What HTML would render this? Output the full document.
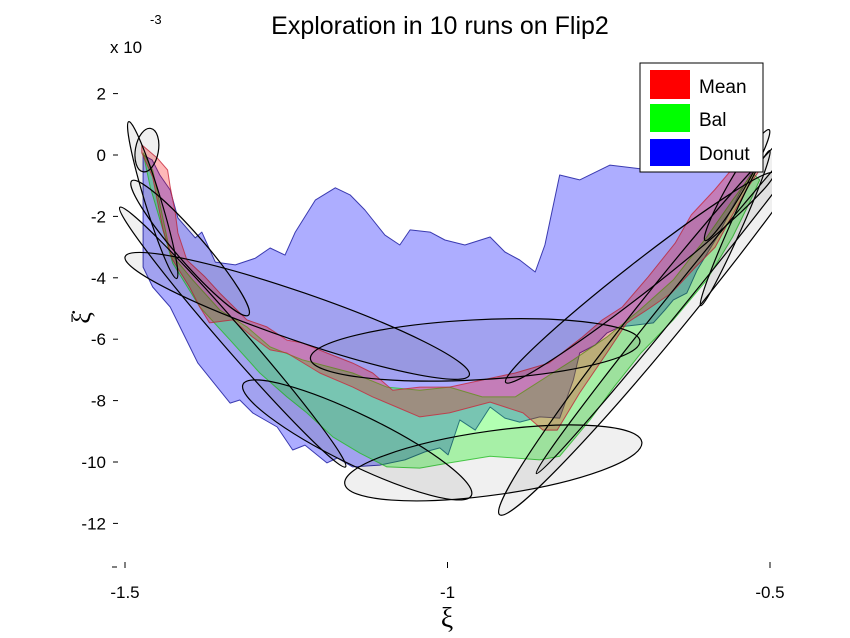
<!DOCTYPE html>
<html><head><meta charset="utf-8"><style>
body{margin:0;background:#fff}
svg{display:block;font-family:"Liberation Sans",sans-serif}
</style></head><body>
<svg id="chart" width="850" height="638" viewBox="0 0 850 638">
<g id="plot"></g>
<g id="axes"></g>
<g>
 <rect x="640" y="63" width="123" height="109" fill="#fff" stroke="#000" stroke-width="1"/>
 <rect x="650" y="70" width="40" height="29" fill="#f00"/>
 <text x="699" y="93" font-size="19">Mean</text>
 <rect x="650" y="104" width="40" height="28" fill="#0f0"/>
 <text x="699" y="126" font-size="19">Bal</text>
 <rect x="650" y="139" width="40" height="27" fill="#00f"/>
 <text x="699" y="160" font-size="19">Donut</text>
</g>
<text x="440" y="34" font-size="25" text-anchor="middle">Exploration in 10 runs on Flip2</text>
<text x="110" y="53" font-size="17">x 10</text>
<text x="150" y="24" font-size="13">-3</text>
<text x="447" y="627" font-size="28" text-anchor="middle" font-family="Liberation Serif,serif">ξ</text>
<text transform="translate(90,318) rotate(-90)" font-size="26" text-anchor="middle" font-family="Liberation Serif,serif">ξ̇</text>
</svg>
<script>
// Axis tick values
const xTicks=[-1.5,-1,-0.5];
const xTickLabels=["-1.5","-1","-0.5"];
const yTicks=[2,0,-2,-4,-6,-8,-10,-12];
const yTickLabels=["2","0","-2","-4","-6","-8","-10","-12"];
// Donut band (blue)
const donutUpX=[-1.472,-1.458,-1.446,-1.430,-1.418,-1.391,-1.381,-1.360,-1.329,-1.298,-1.275,-1.252,-1.236,-1.205,-1.174,-1.151,-1.128,-1.097,-1.074,-1.058,-1.027,-1.004,-0.973,-0.934,-0.911,-0.888,-0.864,-0.849,-0.826,-0.795,-0.748,-0.686,-0.609,-0.547,-0.516];
const donutUpY=[0,-0.16,-0.65,-1.14,-2.05,-2.70,-2.51,-3.49,-3.58,-3.36,-3.03,-3.26,-2.51,-1.47,-1.07,-1.30,-1.79,-2.61,-2.93,-2.44,-2.51,-2.77,-2.93,-2.67,-3.16,-3.42,-3.81,-2.93,-0.65,-0.81,-0.33,-0.49,-0.33,-0.16,0.16];
const donutLoX=[-1.472,-1.457,-1.430,-1.387,-1.337,-1.322,-1.302,-1.264,-1.240,-1.221,-1.187,-1.171,-1.147,-1.105,-1.066,-1.035,-1.012,-0.999,-0.981,-0.957,-0.934,-0.911,-0.888,-0.857,-0.826,-0.805,-0.795,-0.771,-0.753,-0.733,-0.681,-0.663,-0.650,-0.629,-0.613,-0.582,-0.547,-0.526,-0.516];
const donutLoY=[-3.65,-4.30,-4.95,-6.78,-8.08,-7.98,-8.40,-8.86,-9.61,-9.45,-10.03,-9.87,-10.16,-10.10,-9.93,-9.67,-9.54,-9.77,-8.63,-8.96,-8.21,-8.57,-8.70,-8.53,-8.57,-7.33,-6.45,-6.19,-5.80,-5.60,-5.47,-5.05,-4.72,-4.50,-3.75,-2.67,-1.24,-0.49,0];
// Mean band (red)
const meanUpX=[-1.474,-1.450,-1.434,-1.430,-1.422,-1.418,-1.404,-1.376,-1.353,-1.311,-1.280,-1.249,-1.225,-1.187,-1.147,-1.116,-1.085,-1.043,-0.997,-0.946,-0.895,-0.843,-0.791,-0.760,-0.729,-0.689,-0.647,-0.622,-0.586,-0.560];
const meanUpY=[0.33,-0.10,-0.49,-1.04,-1.89,-2.54,-3.42,-3.97,-4.50,-5.37,-5.60,-6.03,-6.12,-6.45,-6.78,-7.10,-7.66,-7.56,-7.56,-7.33,-7.10,-6.78,-5.93,-5.37,-4.95,-3.97,-2.87,-1.95,-1.14,-0.49];
const meanLoX=[-1.474,-1.457,-1.441,-1.426,-1.400,-1.384,-1.369,-1.333,-1.302,-1.275,-1.249,-1.198,-1.147,-1.116,-1.079,-1.043,-0.997,-0.934,-0.883,-0.852,-0.830,-0.795,-0.753,-0.722,-0.691,-0.653,-0.616,-0.585,-0.560,-0.534,-0.516];
const meanLoY=[0.07,-0.72,-2.44,-3.42,-4.30,-4.95,-5.47,-5.37,-5.93,-6.35,-6.45,-7.10,-7.56,-7.88,-8.21,-8.53,-8.40,-8.05,-8.40,-8.96,-8.96,-7.75,-6.45,-5.47,-5.05,-4.50,-3.66,-3.00,-2.02,-1.04,-0.49];
// Bal band (green)
const balUpX=[-1.472,-1.457,-1.430,-1.395,-1.353,-1.311,-1.275,-1.225,-1.147,-1.094,-1.043,-0.997,-0.946,-0.895,-0.805,-0.753,-0.702,-0.650,-0.598,-0.558,-0.527];
const balUpY=[0.07,-0.49,-3.19,-4.07,-5.05,-5.60,-6.25,-6.67,-7.10,-7.56,-7.66,-7.56,-7.88,-7.88,-6.67,-5.93,-5.05,-4.07,-2.67,-1.47,-0.59];
const balLoX=[-1.472,-1.461,-1.426,-1.384,-1.337,-1.291,-1.249,-1.218,-1.178,-1.136,-1.094,-1.043,-0.997,-0.934,-0.857,-0.826,-0.805,-0.779,-0.742,-0.700,-0.650,-0.598,-0.558,-0.532,-0.516];
const balLoY=[0.07,-1.04,-3.52,-4.95,-6.03,-7.10,-7.88,-8.40,-9.18,-9.71,-10.16,-10.20,-10.03,-9.81,-9.93,-9.81,-9.28,-8.63,-7.56,-6.45,-5.37,-4.07,-2.67,-1.56,-0.81];
// Covariance ellipses: centres in data units, semi-axes in px, angle in degrees
const ellCx=[-1.466,-1.457,-1.399,-1.233,-0.957,-0.702,-1.140,-0.929,-0.646,-0.628,-0.551,-0.554,-1.333];
const ellCy=[0.16,-1.47,-3.03,-5.24,-6.35,-4.00,-9.28,-10.03,-4.63,-4.30,-0.98,-2.38,-5.93];
const ellA=[22,82,89,182,165,170,127,150,280,240,64,85,172];
const ellB=[11.5,8,14,24,30,15,25,32,24,9,8,6,12];
const ellAng=[-80,73,49,19,-3,-38,26,-8,-51,-51,-60,-66,49];

const X0=125,XS=645,Y0=155,YS=30.7;
function sx(v){return X0+(v+1.5)*XS;}
function sy(v){return Y0-v*YS;}
const NS='http://www.w3.org/2000/svg';
const plot=document.getElementById('plot');
const axes=document.getElementById('axes');
function mk(tag,attrs,parent){const e=document.createElementNS(NS,tag);for(const k in attrs)e.setAttribute(k,attrs[k]);parent.appendChild(e);return e;}

const defs=mk('defs',{},plot);
const cp=mk('clipPath',{id:'clip'},defs);
mk('rect',{x:100,y:60,width:672,height:490},cp);

function band(ux,uy,lx,ly,fill,stroke,name){
  let pts=[];
  for(let i=0;i<ux.length;i++)pts.push(sx(ux[i]).toFixed(1)+','+sy(uy[i]).toFixed(1));
  for(let i=lx.length-1;i>=0;i--)pts.push(sx(lx[i]).toFixed(1)+','+sy(ly[i]).toFixed(1));
  const p=mk('polygon',{points:pts.join(' '),fill:fill,stroke:stroke,'stroke-width':1,'stroke-linejoin':'round'},plot);
  
  
}
band(donutUpX,donutUpY,donutLoX,donutLoY,'rgba(0,0,255,0.32)','#3a3ab0','donut-band');
band(balUpX,balUpY,balLoX,balLoY,'rgba(0,255,0,0.3)','rgba(40,200,40,0.8)','bal-band');
band(meanUpX,meanUpY,meanLoX,meanLoY,'rgba(255,0,0,0.28)','rgba(200,40,60,0.8)','mean-band');

const eg=mk('g',{'clip-path':'url(#clip)'},plot);
for(let i=0;i<ellCx.length;i++){
  const cx=sx(ellCx[i]),cy=sy(ellCy[i]);
  const e=mk('ellipse',{cx:cx.toFixed(1),cy:cy.toFixed(1),rx:ellA[i],ry:ellB[i],transform:'rotate('+ellAng[i]+' '+cx.toFixed(1)+' '+cy.toFixed(1)+')',fill:'rgba(0,0,0,0.06)',stroke:'#000','stroke-width':1.2},eg);
  
  
}

for(let i=0;i<xTicks.length;i++){
  const x=sx(xTicks[i]);
  const t=mk('line',{x1:x,x2:x,y1:562,y2:568,stroke:'#000','stroke-width':1},axes);
  
  
  const l=mk('text',{x:x,y:598,'font-size':17,'text-anchor':'middle'},axes);
  l.textContent=xTickLabels[i];
  
  
}
for(let i=0;i<yTicks.length;i++){
  const y=sy(yTicks[i]);
  const t=mk('line',{x1:113,x2:118,y1:y,y2:y,stroke:'#000','stroke-width':1},axes);
  
  
  const l=mk('text',{x:106,y:y+6,'font-size':17,'text-anchor':'end'},axes);
  l.textContent=yTickLabels[i];
  
  
}
mk('line',{x1:112,x2:117,y1:567,y2:567,stroke:'#000','stroke-width':1},axes);
</script>
</body></html>
